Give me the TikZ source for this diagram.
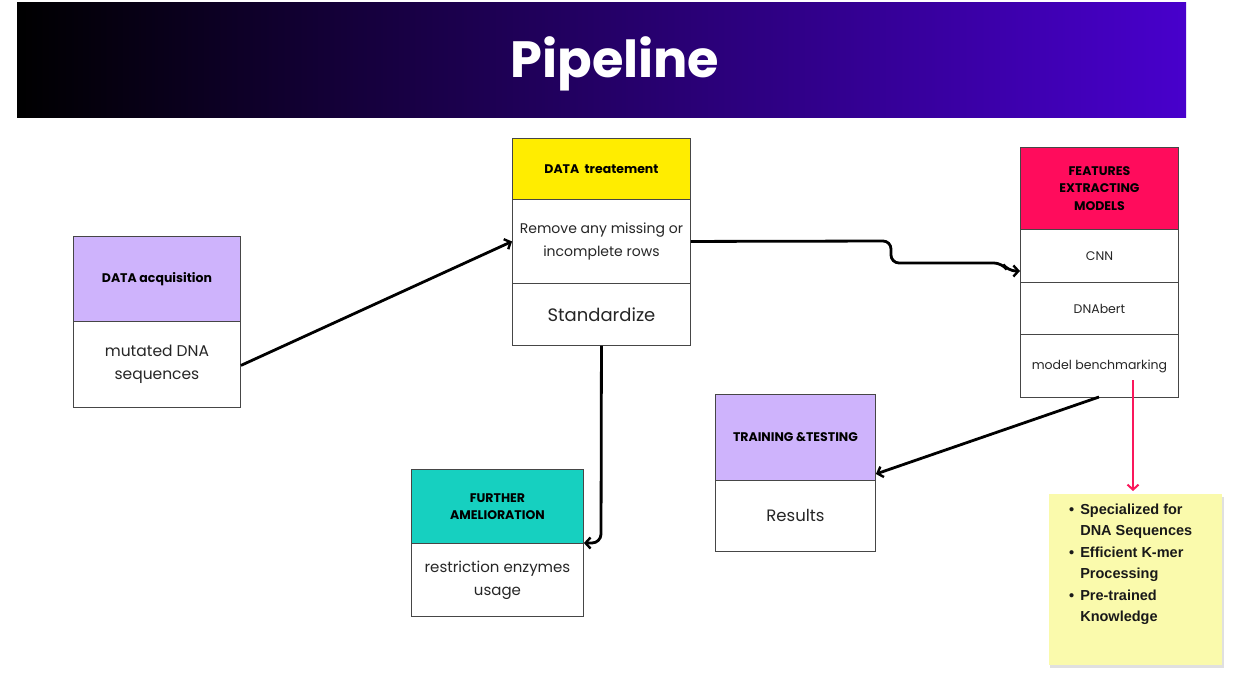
\documentclass[tikz,border=0pt]{standalone}
\usepackage{fontspec}
\setmainfont{Poppins}
\newfontfamily\notefont{Liberation Sans}
\usetikzlibrary{arrows.meta,calc}
\definecolor{lav}{RGB}{206,179,252}
\definecolor{yel}{RGB}{255,237,0}
\definecolor{rose}{RGB}{255,12,92}
\definecolor{teal2}{RGB}{22,208,192}
\definecolor{sticky}{RGB}{250,250,172}
\definecolor{barright}{RGB}{72,0,204}
\definecolor{edge}{RGB}{70,70,70}
\definecolor{pinkarrow}{RGB}{250,24,92}
\tikzset{
  sect/.style={draw=edge, line width=0.9pt, inner sep=2pt, align=center, anchor=north west},
  hdr/.style={sect, font=\bfseries\fontsize{12.5}{17.5}\selectfont},
  bodytxt/.style={sect, fill=white, font=\fontsize{14.5}{23}\selectfont, text=black!85},
  conn/.style={line width=2.8pt, -{Straight Barb[length=5pt,width=11pt,line width=2.4pt]}},
}
\begin{document}
\begin{tikzpicture}[x=1pt,y=-1pt]
\useasboundingbox (0,0) rectangle (1252,685);
\fill[white] (0,0) rectangle (1252,685);
% title bar
\shade[left color=black, right color=barright] (17,3) rectangle (1186,117);
\node[font=\bfseries\fontsize{51}{55}\selectfont, text=white] (title) at (615,64) {Pipeline};

% Box A
\node[hdr, fill=lav, minimum width=167pt, minimum height=85pt] (Ah) at (73,236) {DATA acquisition};
\node[bodytxt, minimum width=167pt, minimum height=86pt, font=\fontsize{15.5}{23}\selectfont] (Ab) at (73,321) {\raisebox{-2pt}{mutated DNA}\\\raisebox{-2pt}{sequences}};

% Box B
\node[hdr, fill=yel, minimum width=178pt, minimum height=61pt] (Bh) at (512,138) {DATA\ \ treatement};
\node[bodytxt, minimum width=178pt, minimum height=84pt, font=\fontsize{14}{23}\selectfont] (Bm) at (512,199) {\raisebox{-3pt}{Remove any missing or}\\\raisebox{-3pt}{incomplete rows}};
\node[bodytxt, minimum width=178pt, minimum height=62pt, font=\fontsize{18}{23}\selectfont] (Bb) at (512,283) {Standardize};

% Box C
\node[hdr, fill=rose, minimum width=158pt, minimum height=82pt] (Ch) at (1020,147) {FEATURES\\EXTRACTING\\MODELS};
\node[bodytxt, minimum width=158pt, minimum height=53pt, font=\fontsize{12.5}{16}\selectfont] (C1) at (1020,229) {CNN};
\node[bodytxt, minimum width=158pt, minimum height=52pt, font=\fontsize{12.5}{16}\selectfont] (C2) at (1020,282) {DNAbert};
\node[bodytxt, minimum width=158pt, minimum height=63pt, font=\fontsize{12.5}{16}\selectfont] (C3) at (1020,334) {model benchmarking};

% Box D
\node[hdr, fill=teal2, minimum width=172pt, minimum height=74pt] (Dh) at (411,469) {FURTHER\\AMELIORATION};
\node[bodytxt, minimum width=172pt, minimum height=73pt, font=\fontsize{15}{23}\selectfont] (Db) at (411,543) {restriction enzymes\\usage};

% Box E
\node[hdr, fill=lav, minimum width=160pt, minimum height=86pt] (Eh) at (715,394) {TRAINING \&TESTING};
\node[bodytxt, minimum width=160pt, minimum height=71pt, font=\fontsize{16.5}{23}\selectfont] (Eb) at (715,480) {Results};

% sticky note
\fill[black!12] (1050,497) rectangle (1224,668);
\node[fill=sticky, anchor=north west, minimum width=173pt, minimum height=171pt, inner sep=0pt] (note) at (1049,494) {};
\node[anchor=north west, inner sep=0pt, font=\notefont\bfseries\fontsize{14.5}{21.5}\selectfont, text=black!90] (notetxt) at (1069,499)
{\begin{tabular}{@{}l@{\hspace{6pt}}l@{}}
\textbullet & Specialized for\\
 & DNA Sequences\\
\textbullet & Efficient K-mer\\
 & Processing\\
\textbullet & Pre-trained\\
 & Knowledge
\end{tabular}};

% connectors
\draw[conn] ($(Ab.east)+(0,1)$) -- (Bm.west);
\draw[conn, rounded corners=8pt] (Bm.east) -- (891,241) -- (891,263) -- (1002,263) -- (1008,271) -- (C1.west |- 0,271);
\draw[conn, rounded corners=9pt] (Bb.south) -- (601,543) -- (Db.north east);
\coordinate (Cbot) at (1099,397);
\draw[conn] (Cbot) -- (Eh.east |- 0,474);
\coordinate (pinkstart) at (1133,380);
\coordinate (pinkend) at (1133,491);
\draw[line width=2pt, draw=pinkarrow, -{Straight Barb[length=5pt,width=11pt,line width=2pt]}] (pinkstart) -- (pinkend);
\end{tikzpicture}
\end{document}
